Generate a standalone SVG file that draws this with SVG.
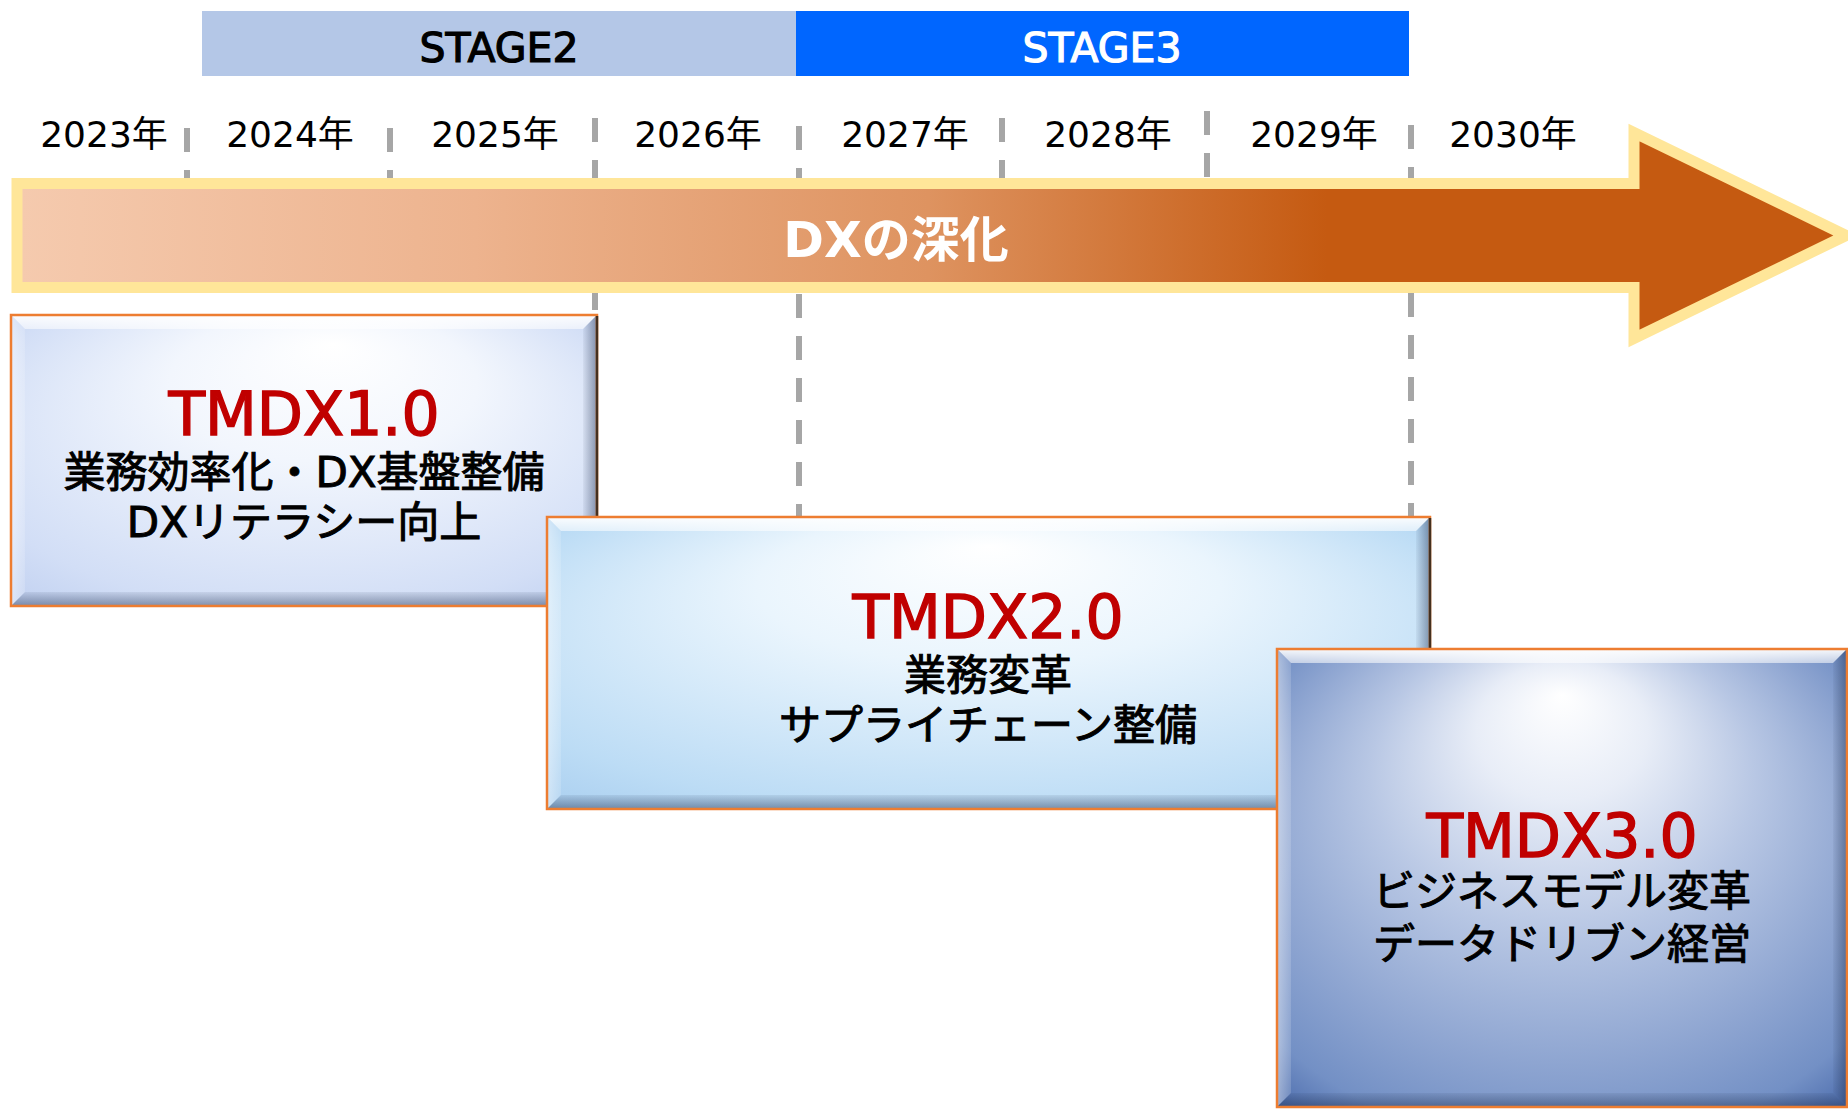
<svg xmlns="http://www.w3.org/2000/svg" width="1848" height="1109" viewBox="0 0 1848 1109">
<style>
.lat{font-family:"DejaVu Sans","Noto Sans CJK JP",sans-serif}
.yr{font-size:36px;fill:#000;text-anchor:middle}
.stg{font-size:41px;text-anchor:middle;stroke-width:1.2}
.ttl{font-size:60px;fill:#C00000;stroke:#C00000;stroke-width:1.4;text-anchor:middle}
.sub{font-size:42px;fill:#000;stroke:#000;stroke-width:1;text-anchor:middle}
.grid{stroke:#A6A6A6;stroke-width:6;stroke-dasharray:24 18;fill:none}
.edge{fill:none;stroke:#ED7D31;stroke-width:2.5}
.dark{stroke:#45301F;stroke-width:2.5}
</style>
<defs>
<linearGradient id="arrowFill" gradientUnits="userSpaceOnUse" x1="22" y1="0" x2="1834" y2="0">
<stop offset="0" stop-color="#F5CAAE"/>
<stop offset="0.25" stop-color="#EDB38E"/>
<stop offset="0.5" stop-color="#DE9360"/>
<stop offset="0.72" stop-color="#C55A11"/>
<stop offset="1" stop-color="#C55A11"/>
</linearGradient>
<radialGradient id="g1" cx="0.5" cy="0.5" r="0.75" fx="0.55" fy="0.1">
<stop offset="0" stop-color="#FFFFFF"/>
<stop offset="0.35" stop-color="#F2F6FD"/>
<stop offset="0.8" stop-color="#D2DEF6"/>
<stop offset="1" stop-color="#BCCDEF"/>
</radialGradient>
<radialGradient id="g2" cx="0.5" cy="0.5" r="0.75" fx="0.5" fy="0.1">
<stop offset="0" stop-color="#FFFFFF"/>
<stop offset="0.35" stop-color="#EAF5FD"/>
<stop offset="0.8" stop-color="#BCDCF5"/>
<stop offset="1" stop-color="#A5CBEE"/>
</radialGradient>
<radialGradient id="g3" cx="0.5" cy="0.5" r="0.75" fx="0.5" fy="0.1">
<stop offset="0" stop-color="#FFFFFF"/>
<stop offset="0.2" stop-color="#E8EDF7"/>
<stop offset="0.45" stop-color="#B8C7E4"/>
<stop offset="0.7" stop-color="#8EA5D1"/>
<stop offset="0.86" stop-color="#7390C5"/>
<stop offset="1" stop-color="#3C5DA2"/>
</radialGradient>
<linearGradient id="bvTop" x1="0" y1="0" x2="0" y2="1">
<stop offset="0" stop-color="#FFFFFF" stop-opacity="0.95"/>
<stop offset="1" stop-color="#FFFFFF" stop-opacity="0.55"/>
</linearGradient>
<linearGradient id="bvLeft" x1="0" y1="0" x2="1" y2="0">
<stop offset="0" stop-color="#FFFFFF" stop-opacity="0.45"/>
<stop offset="1" stop-color="#FFFFFF" stop-opacity="0.15"/>
</linearGradient>
<linearGradient id="bvRight" x1="0" y1="0" x2="1" y2="0">
<stop offset="0" stop-color="#1F2F4F" stop-opacity="0.05"/>
<stop offset="1" stop-color="#1F2F4F" stop-opacity="0.45"/>
</linearGradient>
<linearGradient id="bvBottom" x1="0" y1="0" x2="0" y2="1">
<stop offset="0" stop-color="#1F2F4F" stop-opacity="0.08"/>
<stop offset="1" stop-color="#1F2F4F" stop-opacity="0.45"/>
</linearGradient>
</defs>

<g id="stage2">
<rect x="202" y="11" width="594" height="65" fill="#B4C7E7"/>
<text class="lat stg" x="499" y="62" fill="#000" stroke="#000">STAGE2</text>
</g>
<g id="stage3">
<rect x="796" y="11" width="613" height="65" fill="#0066FF"/>
<text class="lat stg" x="1102" y="62" fill="#FFFFFF" stroke="#FFFFFF">STAGE3</text>
</g>

<g id="years" class="lat yr">
<text x="104" y="147">2023年</text>
<text x="290" y="147">2024年</text>
<text x="495" y="147">2025年</text>
<text x="698" y="147">2026年</text>
<text x="905" y="147">2027年</text>
<text x="1108" y="147">2028年</text>
<text x="1314" y="147">2029年</text>
<text x="1513" y="147">2030年</text>
</g>

<g id="connectors">
<line class="grid" x1="187" y1="128" x2="187" y2="182"/>
<line class="grid" x1="390" y1="128" x2="390" y2="182"/>
<line class="grid" x1="595" y1="118" x2="595" y2="316"/>
<line class="grid" x1="799" y1="126" x2="799" y2="518"/>
<line class="grid" x1="1002" y1="118" x2="1002" y2="182"/>
<line class="grid" x1="1207" y1="111" x2="1207" y2="182"/>
<line class="grid" x1="1411" y1="125" x2="1411" y2="518"/>
</g>

<g id="arrow">
<path d="M17,183.5 H1634 V132.5 L1846,235.5 L1634,338.5 V287.5 H17 Z" fill="url(#arrowFill)" stroke="#FFE699" stroke-width="11" stroke-linejoin="miter" stroke-miterlimit="10"/>
<text class="lat" x="896" y="257" font-size="49" font-weight="bold" fill="#FFFFFF" text-anchor="middle">DXの深化</text>
</g>

<g id="box1">
<rect x="11" y="315" width="586" height="291" fill="url(#g1)"/>
<polygon points="11,315 597,315 583,329 25,329" fill="url(#bvTop)"/>
<polygon points="11,315 25,329 25,592 11,606" fill="url(#bvLeft)"/>
<polygon points="597,315 597,606 583,592 583,329" fill="url(#bvRight)"/>
<polygon points="11,606 597,606 583,592 25,592" fill="url(#bvBottom)"/>
<rect class="edge" x="11" y="315" width="586" height="291"/>
<line class="dark" x1="597" y1="316" x2="597" y2="605"/>
<text class="lat ttl" x="304" y="435">TMDX1.0</text>
<text class="lat sub" x="304" y="487">業務効率化・DX基盤整備</text>
<text class="lat sub" x="304" y="537">DXリテラシー向上</text>
</g>

<g id="box2">
<rect x="547" y="517" width="883" height="292" fill="url(#g2)"/>
<polygon points="547,517 1430,517 1416,531 561,531" fill="url(#bvTop)"/>
<polygon points="547,517 561,531 561,795 547,809" fill="url(#bvLeft)"/>
<polygon points="1430,517 1430,809 1416,795 1416,531" fill="url(#bvRight)"/>
<polygon points="547,809 1430,809 1416,795 561,795" fill="url(#bvBottom)"/>
<rect class="edge" x="547" y="517" width="883" height="292"/>
<line class="dark" x1="1430" y1="518" x2="1430" y2="808"/>
<text class="lat ttl" x="988" y="638">TMDX2.0</text>
<text class="lat sub" x="988" y="690">業務変革</text>
<text class="lat sub" x="988" y="740">サプライチェーン整備</text>
</g>

<g id="box3">
<rect x="1277" y="649" width="570" height="458" fill="url(#g3)"/>
<polygon points="1277,649 1847,649 1833,663 1291,663" fill="url(#bvTop)"/>
<polygon points="1277,649 1291,663 1291,1093 1277,1107" fill="url(#bvLeft)"/>
<polygon points="1847,649 1847,1107 1833,1093 1833,663" fill="url(#bvRight)"/>
<polygon points="1277,1107 1847,1107 1833,1093 1291,1093" fill="url(#bvBottom)"/>
<rect class="edge" x="1277" y="649" width="570" height="458"/>
<text class="lat ttl" x="1562" y="857">TMDX3.0</text>
<text class="lat sub" x="1562" y="906">ビジネスモデル変革</text>
<text class="lat sub" x="1562" y="959">データドリブン経営</text>
</g>
</svg>
